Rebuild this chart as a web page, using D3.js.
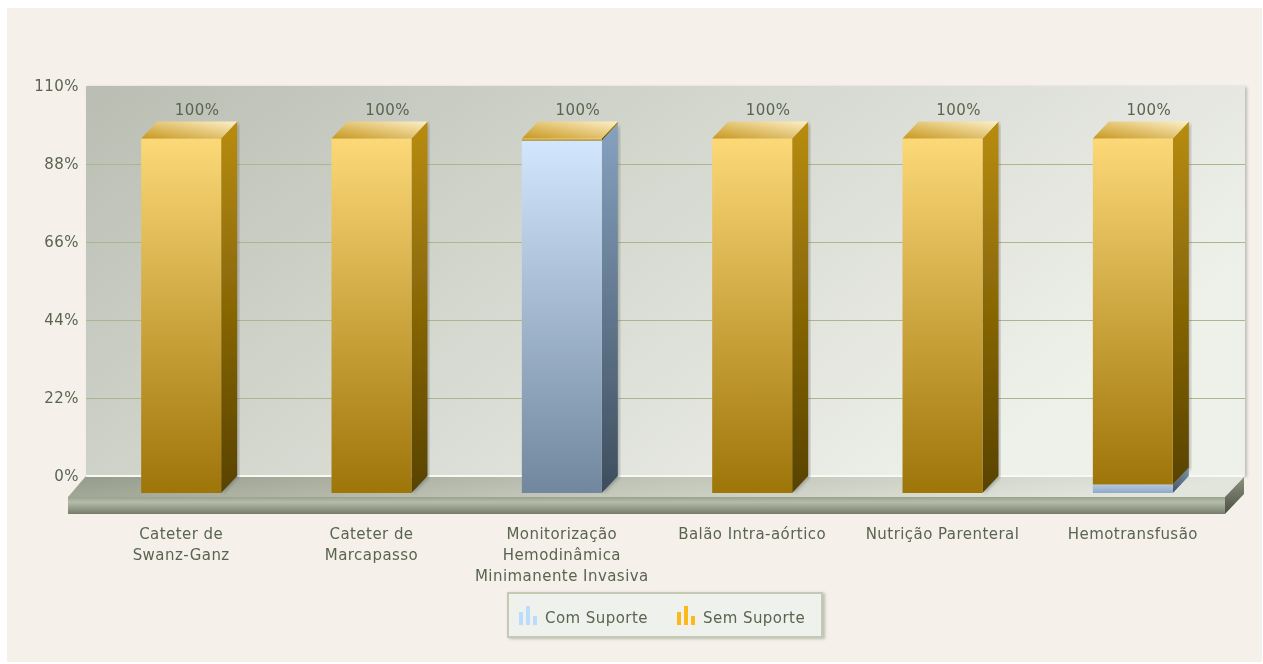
<!DOCTYPE html>
<html>
<head>
<meta http-equiv="content-type" content="text/html; charset=utf-8" />
<title>Com Suporte / Sem Suporte</title>
<style>
html, body { margin: 0; padding: 0; background: #fff; }
svg { display: block; filter: blur(0.5px); }
text { font-family: "DejaVu Sans", sans-serif; font-size: 15px; letter-spacing: 0.45px; fill: #5a6450; }
.axis path.domain { display: none; }
.x.axis line { display: none; }
.grid line { stroke: #a9b78f; stroke-width: 1.2; }
.grid path.domain { display: none; }
</style>
</head>
<body>
<svg class="chart"></svg>
<script src="https://d3js.org/d3.v7.min.js"></script>
<script type="text/javascript">
var categories = [
  "Cateter de\nSwanz-Ganz",
  "Cateter de\nMarcapasso",
  "Monitorização\nHemodinâmica\nMinimanente Invasiva",
  "Balão Intra-aórtico",
  "Nutrição Parenteral",
  "Hemotransfusão"
];
var comSuporte = [0, 0, 99.4, 0, 0, 2.4];
var semSuporte = [100, 100, 0.6, 100, 100, 97.6];
var yTicks = [0, 22, 44, 66, 88, 110];
var seriesNames = ["Com Suporte", "Sem Suporte"];

var W = 1263, H = 664;
var depthX = 16, depthY = 17;   // 3d offset of the bars
var plot = {left: 86, right: 1245, top: 86, bottom: 476};

var svg = d3.select(".chart").attr("width", W).attr("height", H);
var defs = svg.append("defs");

function gradient(id, x1, y1, x2, y2, stops) {
  var g = defs.append("linearGradient").attr("id", id)
    .attr("x1", x1).attr("y1", y1).attr("x2", x2).attr("y2", y2);
  stops.forEach(function(s) {
    g.append("stop").attr("offset", s[0]).attr("stop-color", s[1]);
  });
}
gradient("plotBg", 0, 0, 1, 0.45, [[0, "#b9bdb2"], [0.45, "#d3d6cd"], [1, "#eef0ea"]]);
gradient("floorTop", 0, 0, 1, 0.15, [[0, "#959b8b"], [0.5, "#c0c4b6"], [1, "#e2e5dc"]]);
gradient("floorFront", 0, 0, 0, 1, [[0, "#9aa18e"], [0.3, "#b6bcaa"], [1, "#767d6b"]]);
gradient("floorSide", 0, 0, 0, 1, [[0, "#8d9381"], [1, "#4b5043"]]);
gradient("goldFront", 0, 0, 0, 1, [[0, "#fcd877"], [1, "#9e7509"]]);
gradient("goldSide", 0, 0, 0, 1, [[0, "#b88c0c"], [1, "#584200"]]);
gradient("goldTop", 0, 1, 1, 0, [[0, "#c8981f"], [1, "#fdf0c8"]]);
gradient("blueFront", 0, 0, 0, 1, [[0, "#d2e7fd"], [1, "#71879e"]]);
gradient("blueSide", 0, 0, 0, 1, [[0, "#86a2bf"], [1, "#3e4d5d"]]);
gradient("blueTop", 0, 1, 1, 0, [[0, "#a9c4e0"], [1, "#eaf4fe"]]);
gradient("blueSliver", 0, 0, 0, 1, [[0, "#b4c9e2"], [1, "#8fa9c8"]]);

var shadow = defs.append("filter").attr("id", "soft")
  .attr("x", "-10%").attr("y", "-10%").attr("width", "125%").attr("height", "125%");
shadow.append("feDropShadow").attr("dx", 2).attr("dy", 1)
  .attr("stdDeviation", 1.6).attr("flood-color", "#555").attr("flood-opacity", 0.35);

// card
svg.append("rect").attr("x", 7).attr("y", 8).attr("width", 1255).attr("height", 654).attr("fill", "#f5f1ea");

// plot background
svg.append("rect")
  .attr("x", plot.left).attr("y", plot.top)
  .attr("width", plot.right - plot.left).attr("height", plot.bottom - plot.top)
  .attr("fill", "url(#plotBg)").attr("filter", "url(#soft)");

var xScale = d3.scaleBand().domain(categories).range([86, 1228]);
var yScale = d3.scaleLinear().domain([0, 110]).range([plot.bottom, plot.top]);
var barWidth = 80;

// gridlines
svg.append("g").attr("class", "grid")
  .attr("transform", "translate(" + plot.left + ",0)")
  .call(d3.axisRight(yScale).tickValues(yTicks.slice(1, -1)).tickSize(plot.right - plot.left).tickFormat(""));

// floor
var floorX0 = 68, floorX1 = 1225, floorY = 497, floorH = 17;
svg.append("polygon").attr("fill", "url(#floorTop)")
  .attr("points", [[plot.left, plot.bottom], [plot.right - 1, plot.bottom], [floorX1, floorY], [floorX0, floorY]].join(" "));
svg.append("rect").attr("x", floorX0).attr("y", floorY).attr("width", floorX1 - floorX0).attr("height", floorH)
  .attr("fill", "url(#floorFront)");
svg.append("polygon").attr("fill", "url(#floorSide)")
  .attr("points", [[floorX1, floorY], [plot.right - 1, plot.bottom + 1], [plot.right - 1, plot.bottom + 18], [floorX1, floorY + floorH]].join(" "));
svg.append("line").attr("x1", plot.left).attr("x2", plot.right - 1)
  .attr("y1", plot.bottom).attr("y2", plot.bottom)
  .attr("stroke", "#f8f9f5").attr("stroke-width", 2);

// stacked bars
var rows = categories.map(function(c, i) {
  return {category: c, com: comSuporte[i], sem: semSuporte[i]};
});
var stacked = d3.stack().keys(["com", "sem"])(rows);
var fills = {
  com: {front: "url(#blueFront)", side: "url(#blueSide)", top: "url(#blueTop)"},
  sem: {front: "url(#goldFront)", side: "url(#goldSide)", top: "url(#goldTop)"}
};

function barLeft(d) {
  return xScale(d.data.category) + (xScale.bandwidth() - barWidth) / 2;
}

stacked.forEach(function(layer) {
  var f = fills[layer.key];
  var segs = layer.filter(function(d) { return d[1] > d[0]; });
  var g = svg.append("g").attr("class", "series " + layer.key);

  // right side
  g.selectAll(".side").data(segs).enter().append("polygon")
    .attr("class", "side")
    .attr("fill", f.side)
    .attr("filter", function(d) { return d[1] - d[0] > 50 ? "url(#soft)" : null; })
    .attr("points", function(d) {
      var x = barLeft(d) + barWidth, y0 = yScale(d[0]) + depthY, y1 = yScale(d[1]) + depthY;
      return [[x, y1], [x + depthX, y1 - depthY], [x + depthX, y0 - depthY], [x, y0]].join(" ");
    });

  // front
  g.selectAll(".front").data(segs).enter().append("rect")
    .attr("class", "front")
    .attr("x", barLeft)
    .attr("y", function(d) { return yScale(d[1]) + depthY; })
    .attr("width", barWidth)
    .attr("height", function(d) { return yScale(d[0]) - yScale(d[1]); })
    .attr("fill", function(d) {
      return layer.key === "com" && d[1] - d[0] < 10 ? "url(#blueSliver)" : f.front;
    });

  // top face only where the segment finishes the stack
  g.selectAll(".top").data(segs.filter(function(d) { return d[1] >= 99.9; })).enter().append("polygon")
    .attr("class", "top")
    .attr("fill", f.top)
    .attr("points", function(d) {
      var x = barLeft(d), y = yScale(d[1]) + depthY;
      return [[x, y], [x + barWidth, y], [x + barWidth + depthX, y - depthY], [x + depthX, y - depthY]].join(" ");
    });
});

// total labels
svg.append("g").selectAll("text").data(rows).enter().append("text")
  .attr("x", function(d) { return xScale(d.category) + xScale.bandwidth() / 2 + depthX; })
  .attr("y", function(d) { return yScale(d.com + d.sem) - 6; })
  .attr("text-anchor", "middle")
  .text(function(d) { return Math.round(d.com + d.sem) + "%"; });

// y axis
svg.append("g").attr("class", "y axis")
  .attr("transform", "translate(79,0)")
  .call(d3.axisLeft(yScale).tickValues(yTicks).tickSize(0).tickPadding(0).tickFormat(function(d) { return d + "%"; }))
  .selectAll("text").style("font-size", "15px").style("font-family", '"DejaVu Sans", sans-serif');

// x axis, labels broken over lines
var xAxisG = svg.append("g").attr("class", "x axis")
  .attr("transform", "translate(0,527)")
  .call(d3.axisBottom(xScale).tickSize(0).tickPadding(0).tickFormat(""));
xAxisG.selectAll(".tick text").each(function(d) {
  var t = d3.select(this).attr("y", 0).attr("dy", null)
    .style("font-size", "15px").style("font-family", '"DejaVu Sans", sans-serif');
  d.split("\n").forEach(function(line, i) {
    t.append("tspan").attr("x", 0).attr("y", 12 + i * 21).text(line);
  });
});

// legend
var legend = svg.append("g").attr("class", "legend");
legend.append("rect").attr("x", 508).attr("y", 593).attr("width", 314).attr("height", 44)
  .attr("fill", "#eff1ec").attr("stroke", "#c3c9b3").attr("stroke-width", 2).attr("filter", "url(#soft)");

var legendColors = ["#bcdcfb", "#fbb91c"];
var legendX = [519, 677], legendTextX = [545, 703];
var iconBars = [[0, 13], [7, 19], [14, 9]];
seriesNames.forEach(function(name, i) {
  iconBars.forEach(function(b) {
    legend.append("rect").attr("x", legendX[i] + b[0]).attr("y", 625 - b[1])
      .attr("width", 4).attr("height", b[1]).attr("fill", legendColors[i]);
  });
  legend.append("text").attr("x", legendTextX[i]).attr("y", 623).text(name);
});
</script>
</body>
</html>
